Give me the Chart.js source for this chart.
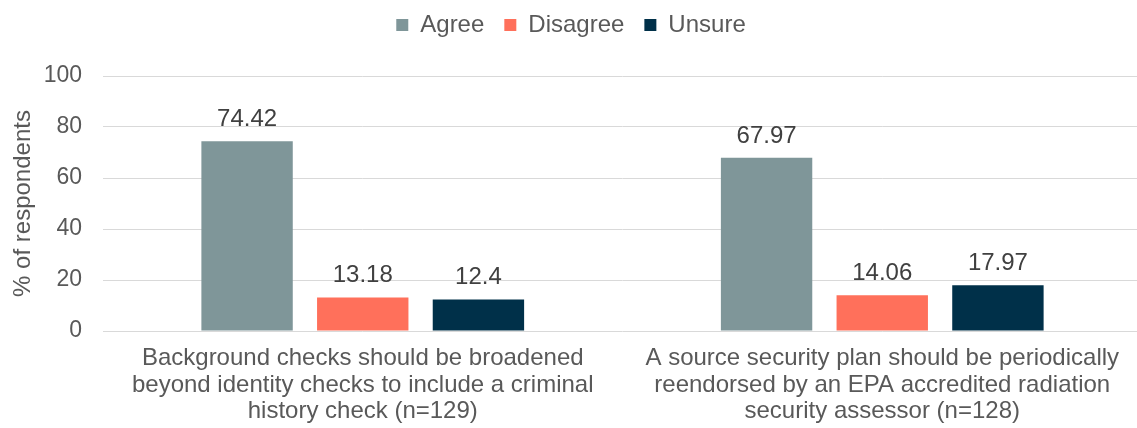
<!DOCTYPE html>
<html>
<head>
<meta charset="utf-8">
<script src="https://cdn.jsdelivr.net/npm/chart.js@4.4.0/dist/chart.umd.min.js"></script>
<style>
  html, body { margin: 0; padding: 0; background: #fff; overflow: hidden; }
  #wrap { width: 1137px; height: 428px; overflow: hidden; }
</style>
</head>
<body>
<div id="wrap"><canvas id="c" width="1142" height="428"></canvas></div>
<script>
const categories = [
  ["Background checks should be broadened", "beyond identity checks to include a criminal", "history check (n=129)"],
  ["A source security plan should be periodically", "reendorsed by an EPA accredited radiation", "security assessor (n=128)"]
];
const seriesNames = ["Agree", "Disagree", "Unsure"];
const agree = [74.42, 67.97];
const disagree = [13.18, 14.06];
const unsure = [12.4, 17.97];
const yTicks = [0, 20, 40, 60, 80, 100];
const colors = ["#7f9699", "#ff705b", "#003049"];

const FONT = "'Liberation Sans', Arial, sans-serif";

const valueLabels = {
  id: 'valueLabels',
  afterDatasetsDraw(chart) {
    const ctx = chart.ctx;
    ctx.save();
    ctx.font = "24px " + FONT;
    ctx.fillStyle = "#404040";
    ctx.textAlign = "center";
    ctx.textBaseline = "alphabetic";
    chart.data.datasets.forEach((ds, i) => {
      const meta = chart.getDatasetMeta(i);
      meta.data.forEach((el, j) => {
        ctx.fillText(String(ds.data[j]), el.x, el.y - 15);
      });
    });
    ctx.restore();
  }
};

const legendSpacer = {
  id: 'legendSpacer',
  beforeInit(chart) {
    const origFit = chart.legend.fit;
    chart.legend.fit = function () {
      origFit.call(this);
      this.height += 29;
    };
  }
};

new Chart(document.getElementById('c'), {
  type: 'bar',
  data: {
    labels: categories,
    datasets: [
      { label: seriesNames[0], data: agree, backgroundColor: colors[0] },
      { label: seriesNames[1], data: disagree, backgroundColor: colors[1] },
      { label: seriesNames[2], data: unsure, backgroundColor: colors[2] }
    ]
  },
  options: {
    responsive: false,
    animation: false,
    devicePixelRatio: 1,
    layout: { padding: { top: -7, right: 0, left: 0, bottom: 0 } },
    datasets: { bar: { categoryPercentage: 0.668, barPercentage: 0.79 } },
    plugins: {
      legend: {
        position: 'top',
        labels: {
          font: { size: 24, family: FONT },
          color: '#595959',
          boxWidth: 12,
          boxHeight: 12,
          padding: 20
        }
      },
      tooltip: { enabled: false }
    },
    scales: {
      x: {
        grid: { display: false, drawTicks: false },
        border: { display: false },
        ticks: {
          color: '#595959',
          font: { size: 24, family: FONT, lineHeight: 1.11 },
          padding: 14,
          maxRotation: 0,
          autoSkip: false
        },
        afterFit(scale) { scale.height = 97; }
      },
      y: {
        min: 0,
        max: 100,
        afterBuildTicks(scale) { scale.ticks = yTicks.map(v => ({ value: v })); },
        grid: { color: '#d9d9d9', lineWidth: 1, drawTicks: false },
        border: { display: false },
        ticks: {
          color: '#595959',
          font: { size: 23, family: FONT },
          padding: 21
        },
        title: {
          display: true,
          text: '% of respondents',
          color: '#595959',
          font: { size: 24, family: FONT },
          padding: { top: 9, bottom: 0 }
        },
        afterFit(scale) { scale.width = 103; }
      }
    }
  },
  plugins: [valueLabels, legendSpacer]
});
</script>
</body>
</html>
